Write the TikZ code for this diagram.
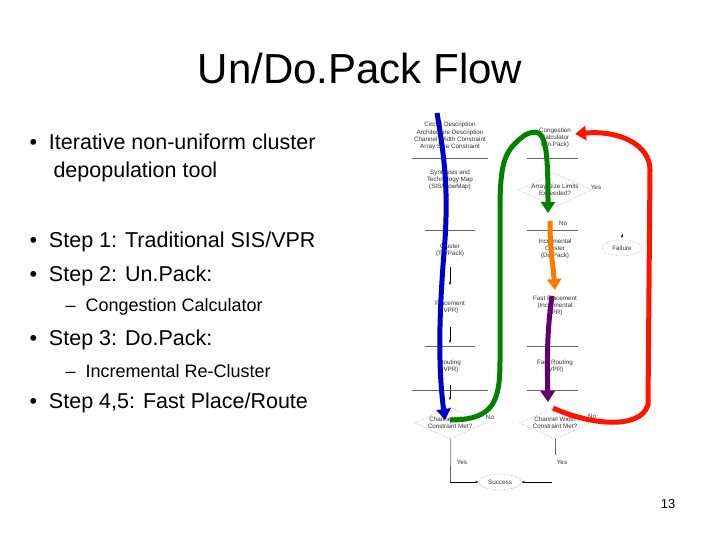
\documentclass[tikz,border=0pt]{standalone}
\usepackage{fontspec}
\setmainfont{Liberation Sans}
\usetikzlibrary{shapes.geometric,arrows.meta}
\begin{document}
\begin{tikzpicture}[x=1pt,y=-1pt,
  bul/.style={anchor=west,font=\fontsize{21.5}{28}\selectfont,align=left},
  sub/.style={anchor=west,font=\fontsize{18}{20}\selectfont},
  tiny/.style={font=\fontsize{6.3}{7.2}\selectfont,align=center,text=black!80},
  sep/.style={draw=black!60,line width=0.5pt},
  thin/.style={draw=black,line width=0.4pt,-{Stealth[length=3pt]}},
  dia/.style={diamond,draw=black!50,densely dotted,aspect=2.2,inner sep=0pt,tiny},
  ell/.style={ellipse,draw=black!50,densely dotted,tiny,minimum width=40pt},
  fat/.style={line width=5pt,-{Triangle[length=11pt,width=14pt]}}]
\useasboundingbox (0,0) rectangle (720,540);
\node (title) at (360,68) {\fontsize{42}{46}\selectfont Un/Do.Pack Flow};
\node[bul] (b1) at (26,158) {\textbullet\ \ Iterative non-uniform cluster\\ \hspace*{24pt}depopulation tool};
\node[bul] (b2) at (26,242) {\textbullet\ \ Step 1: Traditional SIS/VPR};
\node[bul] (b3) at (26,276) {\textbullet\ \ Step 2: Un.Pack:};
\node[sub] (s1) at (62,307) {--\ \ Congestion Calculator};
\node[bul] (b4) at (26,340) {\textbullet\ \ Step 3: Do.Pack:};
\node[sub] (s2) at (62,371) {--\ \ Incremental Re-Cluster};
\node[bul] (b5) at (26,403) {\textbullet\ \ Step 4,5: Fast Place/Route};
\node (pg) at (668,504) {\fontsize{13}{15}\selectfont 13};
% left column
\node[tiny] (l1) at (450,136) {Circuit Description\\Architecture Description\\Channel Width Constraint\\Array Size Constraint};
\draw[sep] (412,158) -- (488,158);
\node[tiny] (l2) at (450,180) {Synthesis and\\Technology Map\\(SIS/FlowMap)};
\draw[sep] (425,230) -- (475,230);
\node[tiny] (l3) at (450,250) {Cluster\\(T-VPack)};
\coordinate (a1) at (450,267); \coordinate (a2) at (450,285);
\draw[thin] (a1) -- (a2);
\node[tiny] (l4) at (450,307) {Placement\\(VPR)};
\coordinate (a3) at (450,327); \coordinate (a4) at (450,343);
\draw[thin] (a3) -- (a4);
\draw[sep] (425,346) -- (475,346);
\node[tiny] (l5) at (450,366) {Routing\\(VPR)};
\coordinate (a5) at (450,385); \coordinate (a6) at (450,400);
\draw[thin] (a5) -- (a6);
\draw[sep] (412,390) -- (488,390);
\node[dia] (d1) at (450,423) {Channel Width\\Constraint Met?};
\node[tiny] (no1) at (490,417) {No};
\coordinate (c1) at (450,482);
\draw[sep] (d1.south) -- (450,450) -- (c1);
\node[tiny] (y1) at (462,462) {Yes};
\node[ell] (succ) at (500,482) {Success};
\draw[thin] (c1) -- (succ.west);
% right column
\node[tiny] (r1) at (555,138) {Congestion\\Calculator\\(Un.Pack)};
\draw[sep] (527,158) -- (578,158);
\node[dia] (d2) at (555,190) {Array Size Limits\\Exceeded?};
\node[tiny] (yes2) at (596,187) {Yes};
\node[tiny] (no2) at (563,223) {No};
\draw[sep] (527,230) -- (578,230);
\node[tiny] (r2) at (555,249) {Incremental\\Cluster\\(Do.Pack)};
\node[tiny] (r3) at (555,306) {Fast Placement\\(Incremental\\VPR)};
\draw[sep] (527,346) -- (578,346);
\node[tiny] (r4) at (555,366) {Fast Routing\\(VPR)};
\draw[sep] (527,390) -- (578,390);
\node[dia] (d3) at (555,423) {Channel Width\\Constraint Met?};
\node[tiny] (no3) at (592,416) {No};
\node[tiny] (y3) at (562,462) {Yes};
\coordinate (c2) at (552,482);
\draw[sep] (d3.south) -- (555,455);
\draw[thin] (c2) -- (succ.east);
\node[ell] (fail) at (622,248) {Failure};
\coordinate (f1) at (622,234); \coordinate (f2) at (622,238);
\draw[thin] (f1) -- (f2);
% thick arrows
\draw[fat,draw={rgb,255:red,0;green,0;blue,200},-{Triangle[length=11pt,width=14pt,fill={rgb,255:red,0;green,0;blue,200}]}]
  (437,113) .. controls (445,160) and (448,190) .. (445,240) .. controls (440,300) and (437,360) .. (445,420);
\draw[fat,draw={rgb,255:red,0;green,130;blue,0}] (450,420) .. controls (495,420) and (500,400) .. (500,360)
  -- (500,210) .. controls (500,160) and (505,150) .. (525,135) .. controls (545,125) and (548,140) .. (548,213);
\draw[fat,draw={rgb,255:red,255;green,120;blue,0}] (550,221) .. controls (550,250) and (553,265) .. (555,290);
\draw[fat,draw={rgb,255:red,100;green,0;blue,110}] (552,296) .. controls (547,330) and (547,360) .. (548,402);
\draw[fat,draw={rgb,255:red,255;green,20;blue,0}] (553,408) .. controls (590,425) and (640,430) .. (648,405)
  -- (650,170) .. controls (650,145) and (620,130) .. (575,134);
\end{tikzpicture}
\end{document}
